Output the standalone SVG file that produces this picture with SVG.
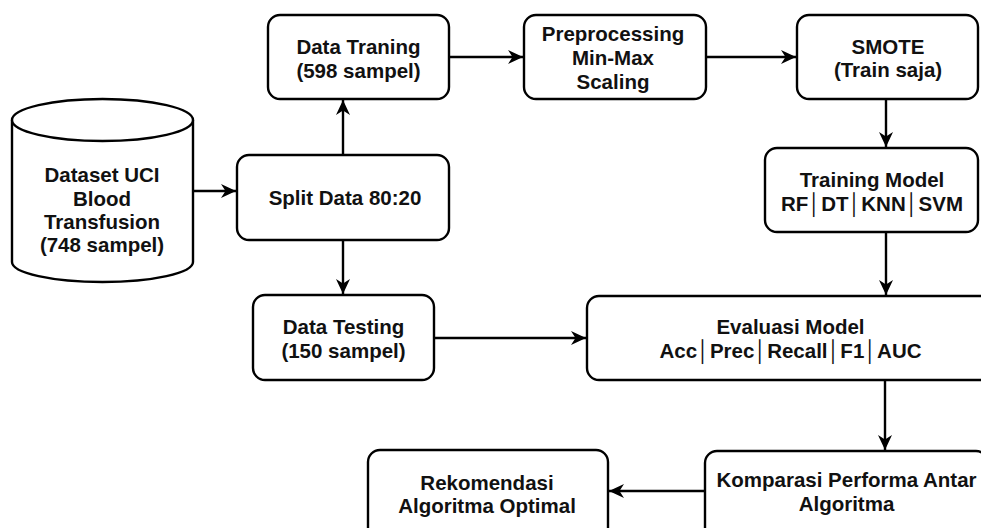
<svg xmlns="http://www.w3.org/2000/svg" width="981" height="528" viewBox="0 0 981 528">
<defs>
<marker id="arr" markerUnits="userSpaceOnUse" markerWidth="16" markerHeight="16" viewBox="0 0 16 16" refX="15" refY="8" orient="auto">
<path d="M0,1 L15,8 L0,15 L4.5,8 z" fill="#000"/>
</marker>
<style>
.box{fill:#fff;stroke:#000;stroke-width:2.4}
.t{font-family:"Liberation Sans",Arial,sans-serif;font-weight:bold;font-size:20.5px;fill:#111;text-anchor:middle}
.e{fill:none;stroke:#000;stroke-width:2.4;marker-end:url(#arr)}
</style>
</defs>
<rect width="981" height="528" fill="#fff"/>
<g id="connectors">
<path class="e" d="M193,191 L236,191"/>
<path class="e" d="M343,155 L343,100"/>
<path class="e" d="M343,240 L343,294"/>
<path class="e" d="M449,57 L523,57"/>
<path class="e" d="M706,57 L796,57"/>
<path class="e" d="M886,99 L886,147"/>
<path class="e" d="M886,232 L886,295"/>
<path class="e" d="M434,338 L586,338"/>
<path class="e" d="M885,380 L885,450"/>
<path class="e" d="M705,491 L609,491"/>
</g>
<g id="dataset">
<path class="box" d="M12,120 L12,262 A90.5,20 0 0 0 193,262 L193,120"/>
<ellipse class="box" cx="102.5" cy="120" rx="90.5" ry="21"/>
<text class="t" x="102" y="182">Dataset UCI</text>
<text class="t" x="102" y="205.5">Blood</text>
<text class="t" x="102" y="229">Transfusion</text>
<text class="t" x="102" y="252">(748 sampel)</text>
</g>
<g id="split">
<rect class="box" x="237" y="155" width="212" height="85" rx="12"/>
<text class="t" x="345" y="205">Split Data 80:20</text>
</g>
<g id="training-data">
<rect class="box" x="268" y="15" width="181" height="84" rx="12"/>
<text class="t" x="358.5" y="54">Data Traning</text>
<text class="t" x="358.5" y="78">(598 sampel)</text>
</g>
<g id="preprocessing">
<rect class="box" x="524" y="15" width="182" height="84" rx="12"/>
<text class="t" x="613" y="40.7">Preprocessing</text>
<text class="t" x="613" y="65">Min-Max</text>
<text class="t" x="613" y="88.5">Scaling</text>
</g>
<g id="smote">
<rect class="box" x="797" y="15" width="181" height="84" rx="12"/>
<text class="t" x="888" y="53.5">SMOTE</text>
<text class="t" x="888" y="77">(Train saja)</text>
</g>
<g id="training-model">
<rect class="box" x="765" y="148" width="213" height="84" rx="12"/>
<text class="t" x="872" y="187">Training Model</text>
<text class="t" x="872" y="211">RF│DT│KNN│SVM</text>
</g>
<g id="testing-data">
<rect class="box" x="253" y="295" width="181" height="85" rx="12"/>
<text class="t" x="343.5" y="334">Data Testing</text>
<text class="t" x="343.5" y="358">(150 sampel)</text>
</g>
<g id="evaluasi">
<rect class="box" x="587" y="296" width="407" height="84" rx="12"/>
<text class="t" x="790.5" y="334.3">Evaluasi Model</text>
<text class="t" x="790.5" y="358">Acc│Prec│Recall│F1│AUC</text>
</g>
<g id="komparasi">
<rect class="box" x="705" y="451" width="283" height="90" rx="12"/>
<text class="t" x="846.5" y="487">Komparasi Performa Antar</text>
<text class="t" x="846.5" y="511">Algoritma</text>
</g>
<g id="rekomendasi">
<rect class="box" x="368" y="450" width="240" height="90" rx="12"/>
<text class="t" x="487" y="489.5">Rekomendasi</text>
<text class="t" x="487" y="513">Algoritma Optimal</text>
</g>
</svg>
